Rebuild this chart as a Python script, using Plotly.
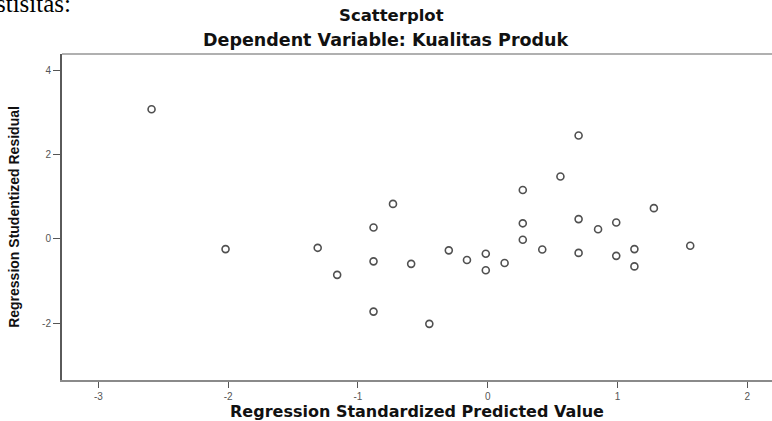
import plotly.graph_objects as go

pred = [-2.59, -2.02, -1.31, -1.16, -0.88, -0.88, -0.88, -0.73, -0.59, -0.45,
        -0.30, -0.16, -0.015, -0.015, 0.13, 0.27, 0.27, 0.27, 0.42, 0.56,
        0.70, 0.70, 0.70, 0.85, 0.99, 0.99, 1.13, 1.13, 1.28, 1.56]
resid = [3.07, -0.24, -0.21, -0.85, 0.27, -0.53, -1.72, 0.83, -0.59, -2.01,
         -0.27, -0.50, -0.35, -0.74, -0.57, 1.16, 0.37, -0.02, -0.25, 1.48,
         2.45, 0.47, -0.33, 0.23, 0.39, -0.40, -0.24, -0.65, 0.73, -0.16]
x_ticks = [-3, -2, -1, 0, 1, 2]
y_ticks = [-2, 0, 2, 4]

title_line1 = "Scatterplot"
title_line2 = "Dependent Variable: Kualitas Produk"
x_title = "Regression Standardized Predicted Value"
y_title = "Regression Studentized Residual"
doc_text = "stisitas:"

fig = go.Figure()
fig.add_trace(go.Scatter(
    x=pred, y=resid, mode="markers",
    marker=dict(symbol="circle-open", size=7, color="#505050",
                line=dict(width=1.6, color="#505050")),
    showlegend=False, hoverinfo="x+y"))

tick_font = dict(family="Liberation Sans, Arial, sans-serif", size=10, color="#555555")

fig.update_layout(
    width=772, height=421,
    margin=dict(l=62, r=0, t=54, b=41),
    paper_bgcolor="white", plot_bgcolor="white",
    xaxis=dict(
        range=[-3.28, 2.19], tickvals=x_ticks, ticktext=[str(v) for v in x_ticks],
        showgrid=False, zeroline=False, automargin=False,
        showline=True, linecolor="#8a8a8a", linewidth=2,
        ticks="outside", ticklen=6, tickwidth=1, tickcolor="#555555",
        tickfont=tick_font,
        title=dict(text=x_title, standoff=9,
                   font=dict(family="DejaVu Sans, sans-serif", size=16,
                             color="#111111", weight="bold")),
    ),
    yaxis=dict(
        range=[-3.34, 4.38], tickvals=y_ticks, ticktext=[str(v) for v in y_ticks],
        showgrid=False, zeroline=False, automargin=False,
        showline=True, linecolor="#5a5a5a", linewidth=2,
        ticks="outside", ticklen=7, tickwidth=1, tickcolor="#555555",
        tickfont=tick_font,
        title=dict(text=y_title, standoff=19,
                   font=dict(family="Liberation Sans, Arial, sans-serif", size=14,
                             color="#111111", weight="bold")),
    ),
    shapes=[dict(type="line", xref="paper", yref="paper", x0=0, x1=1, y0=1, y1=1,
                 line=dict(color="#b0b0b0", width=2))],
    annotations=[
        dict(text=title_line1, xref="paper", yref="paper", x=(391 - 62) / 710,
             y=1 + (54 - 15) / 326, xanchor="center", yanchor="middle", showarrow=False,
             font=dict(family="DejaVu Sans, sans-serif", size=16.5, color="#111111",
                       weight="bold")),
        dict(text=title_line2, xref="paper", yref="paper", x=(386 - 62) / 710,
             y=1 + (54 - 40) / 326, xanchor="center", yanchor="middle", showarrow=False,
             font=dict(family="DejaVu Sans, sans-serif", size=17.5, color="#111111",
                       weight="bold")),
        dict(text=doc_text, xref="paper", yref="paper", x=-(62 + 6) / 710,
             y=1 + (54 - 19) / 326, xanchor="left", yanchor="bottom", showarrow=False,
             font=dict(family="Liberation Serif, Times New Roman, serif", size=25,
                       color="#000000")),
    ],
)

fig.write_html("out.html", config={"displayModeBar": False},
               post_script="document.body.style.margin='0';document.body.style.overflow='hidden';")
